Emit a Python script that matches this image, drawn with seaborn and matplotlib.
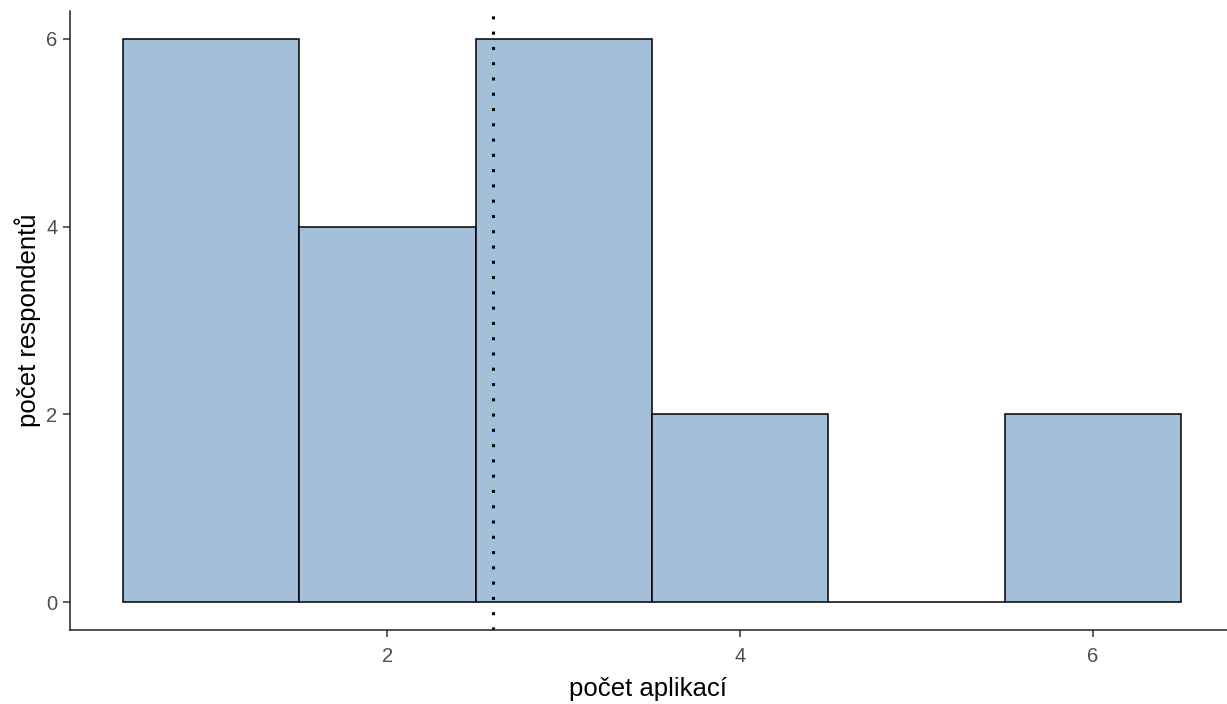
import matplotlib
matplotlib.use("Agg")
import matplotlib.pyplot as plt
import numpy as np
import seaborn as sns

# number of apps used and how many respondents reported each
app_counts = [1, 2, 3, 4, 5, 6]
respondents = [6, 4, 6, 2, 0, 2]

x_ticks = [2, 4, 6]
y_ticks = [0, 2, 4, 6]

sns.set_style("white")
plt.rcParams["font.family"] = ["Liberation Sans", "DejaVu Sans"]

fig = plt.figure(figsize=(12.27, 7.04), dpi=100)
ax = fig.add_axes([0.057, 0.1047, 0.943, 0.880])

sns.histplot(
    x=app_counts,
    weights=respondents,
    discrete=True,
    color="#A3BFD9",
    alpha=1,
    edgecolor="black",
    linewidth=1.1,
    ax=ax,
)

mean_apps = np.average(app_counts, weights=respondents)
ax.axvline(mean_apps, color="black", linewidth=2.2, linestyle=(0, (1, 4)))

ax.set_xlim(0.2, 6.76)
ax.set_ylim(-0.3, 6.3)
ax.set_xticks(x_ticks)
ax.set_yticks(y_ticks)
ax.tick_params(axis="both", length=5, width=1.1, color="#333333",
               labelsize=14.5, labelcolor="#4D4D4D", bottom=True, left=True)
ax.tick_params(axis="x", pad=7)
ax.tick_params(axis="y", pad=4)
ax.set_xlabel("počet aplikací", fontsize=18.5, color="black", labelpad=8)
ax.set_ylabel("počet respondentů", fontsize=18.5, color="black", labelpad=4)

for side in ["top", "right"]:
    ax.spines[side].set_visible(False)
for side in ["left", "bottom"]:
    ax.spines[side].set_color("#222222")
    ax.spines[side].set_linewidth(1.1)

fig.savefig("out.png", dpi=100)
plt.close(fig)
